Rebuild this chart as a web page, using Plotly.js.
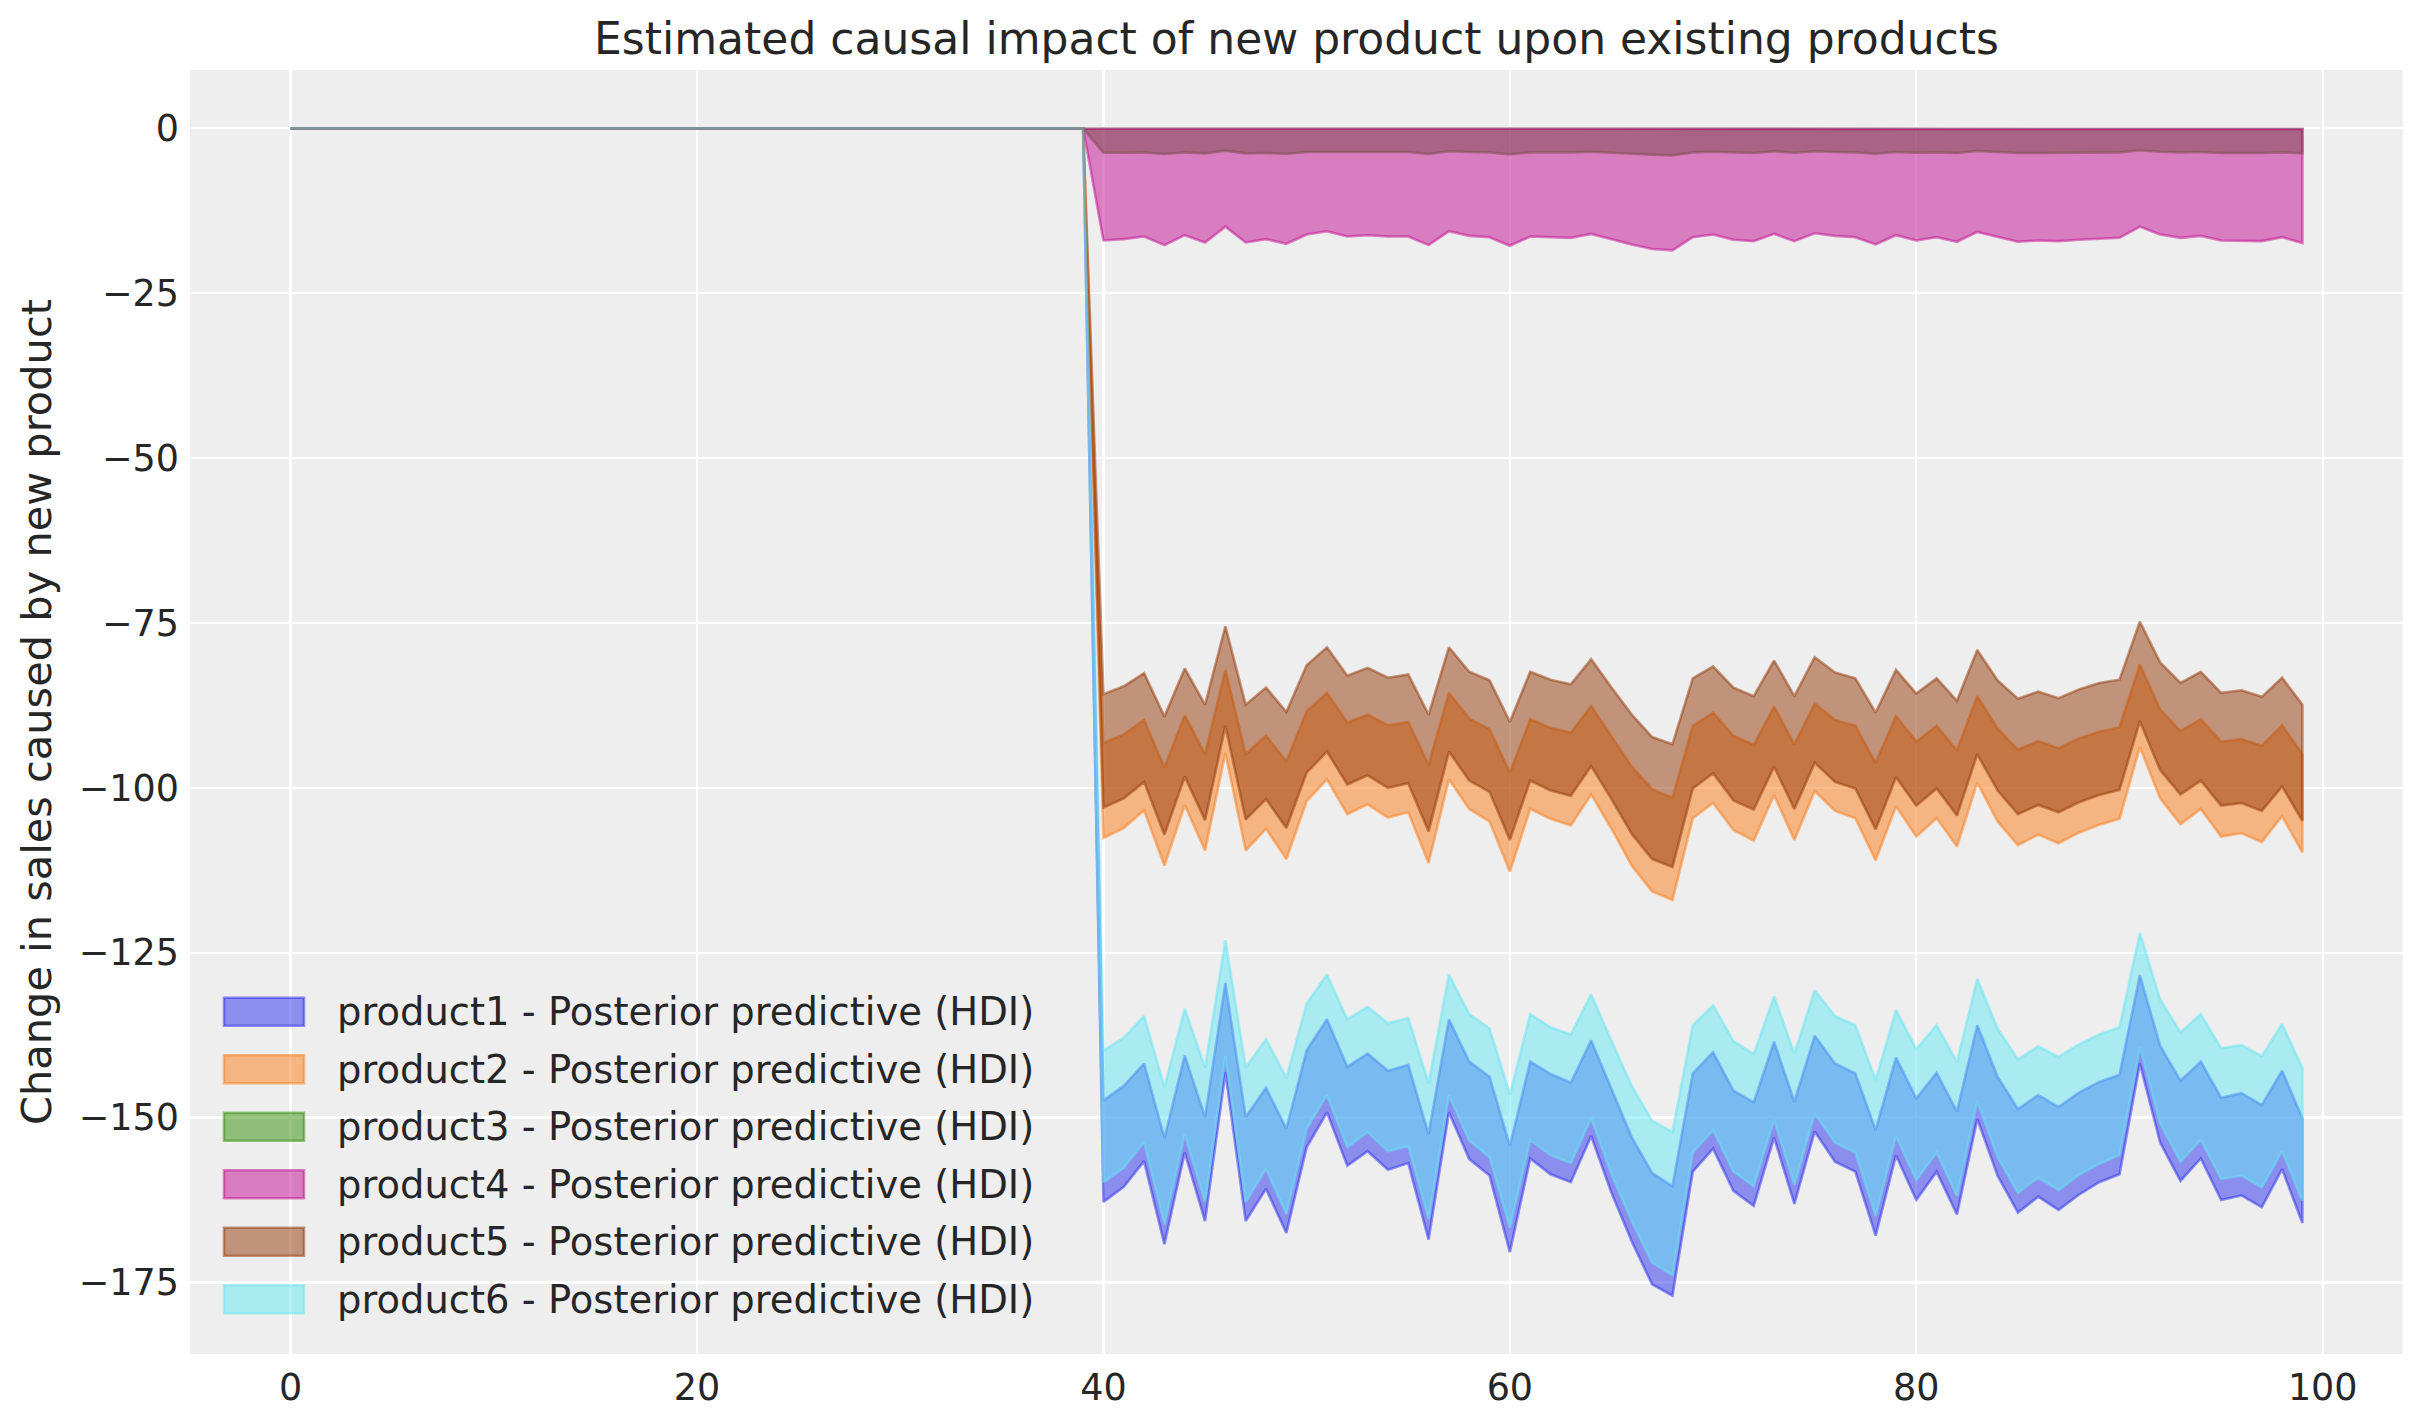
<!DOCTYPE html>
<html>
<head>
<meta charset="utf-8">
<script src="https://cdn.plot.ly/plotly-3.0.1.min.js"></script>
<style>
  html, body { margin: 0; padding: 0; background: #ffffff; }
  #chart { width: 2423px; height: 1423px; }
</style>
</head>
<body>
<div id="chart"></div>
<script>
// Time index (weeks)
const t = [0,1,2,3,4,5,6,7,8,9,10,11,12,13,14,15,16,17,18,19,20,21,22,23,24,25,26,27,28,29,30,31,32,33,34,35,36,37,38,39,
  40,41,42,43,44,45,46,47,48,49,50,51,52,53,54,55,56,57,58,59,60,61,62,63,64,65,66,67,68,69,
  70,71,72,73,74,75,76,77,78,79,80,81,82,83,84,85,86,87,88,89,90,91,92,93,94,95,96,97,98,99];

// HDI bounds per product (0 before the new product launch at t=40)
const product1Upper = [0,0,0,0,0,0,0,0,0,0,0,0,0,0,0,0,0,0,0,0,0,0,0,0,0,0,0,0,0,0,0,0,0,0,0,0,0,0,0,0,
  -147.4,-145.2,-141.8,-153.1,-140.6,-149.9,-129.6,-149.9,-145.5,-151.7,
  -139.8,-135.1,-142.3,-140.3,-142.9,-142.0,-152.5,-135.1,-141.5,-143.8,
  -154.3,-141.5,-143.4,-144.7,-138.3,-145.7,-153.0,-158.4,-160.4,-143.3,
  -140.1,-145.9,-147.7,-138.5,-147.6,-137.6,-141.8,-143.3,-151.9,-140.9,
  -147.1,-143.2,-149.1,-136.0,-143.8,-148.7,-146.6,-148.4,-146.2,-144.6,
  -143.5,-128.4,-139.1,-144.4,-141.5,-147.0,-146.3,-148.1,-142.9,-150.1];
const product1Lower = [0,0,0,0,0,0,0,0,0,0,0,0,0,0,0,0,0,0,0,0,0,0,0,0,0,0,0,0,0,0,0,0,0,0,0,0,0,0,0,0,
  -162.8,-160.5,-156.6,-169.2,-155.3,-165.7,-143.1,-165.7,-160.8,-167.5,
  -154.5,-149.2,-157.3,-155.1,-157.9,-156.9,-168.5,-149.2,-156.3,-158.8,
  -170.4,-156.2,-158.6,-159.8,-152.8,-161.4,-168.8,-175.3,-177.0,-158.2,
  -154.7,-161.1,-163.4,-153.0,-163.1,-152.1,-156.7,-158.2,-167.9,-155.7,
  -162.5,-158.2,-164.7,-150.2,-158.8,-164.4,-162.0,-164.0,-161.7,-159.8,
  -158.6,-141.8,-153.8,-159.6,-156.2,-162.5,-161.8,-163.6,-157.8,-166.0];

const product2Upper = [0,0,0,0,0,0,0,0,0,0,0,0,0,0,0,0,0,0,0,0,0,0,0,0,0,0,0,0,0,0,0,0,0,0,0,0,0,0,0,0,
  -93.2,-91.9,-89.7,-96.9,-89.0,-94.9,-82.1,-94.9,-92.1,-96.0,
  -88.4,-85.6,-90.1,-88.9,-90.5,-90.0,-96.5,-85.6,-89.5,-91.1,
  -97.7,-89.6,-90.9,-91.6,-87.6,-92.2,-96.8,-100.2,-101.5,-90.6,
  -88.6,-92.1,-93.5,-87.7,-93.4,-87.2,-89.7,-90.6,-96.2,-89.1,
  -93.0,-90.6,-94.3,-86.1,-91.0,-94.2,-92.9,-94.0,-92.5,-91.5,
  -90.8,-81.3,-88.1,-91.4,-89.6,-93.0,-92.6,-93.6,-90.5,-94.9];
const product2Lower = [0,0,0,0,0,0,0,0,0,0,0,0,0,0,0,0,0,0,0,0,0,0,0,0,0,0,0,0,0,0,0,0,0,0,0,0,0,0,0,0,
  -107.6,-106.1,-103.4,-111.8,-102.6,-109.5,-94.7,-109.5,-106.2,-110.8,
  -102.0,-98.7,-104.0,-102.5,-104.5,-103.7,-111.4,-98.7,-103.2,-105.1,
  -112.7,-103.2,-104.7,-105.7,-101.0,-106.2,-111.8,-115.7,-117.0,-104.6,
  -102.3,-106.4,-108.0,-101.1,-107.9,-100.5,-103.5,-104.6,-111.0,-102.8,
  -107.4,-104.6,-108.9,-99.2,-105.1,-108.7,-107.1,-108.4,-106.8,-105.6,
  -104.7,-93.8,-101.6,-105.5,-103.2,-107.4,-106.9,-108.2,-104.3,-109.8];

const product3Upper = [0,0,0,0,0,0,0,0,0,0,0,0,0,0,0,0,0,0,0,0,0,0,0,0,0,0,0,0,0,0,0,0,0,0,0,0,0,0,0,0,
  -0.1,-0.1,-0.1,-0.1,-0.1,-0.1,-0.1,-0.1,-0.1,-0.1,
  -0.1,-0.1,-0.1,-0.1,-0.1,-0.1,-0.1,-0.1,-0.1,-0.1,
  -0.1,-0.1,-0.1,-0.1,-0.1,-0.1,-0.1,-0.1,-0.1,-0.1,
  -0.1,-0.1,-0.1,-0.1,-0.1,-0.1,-0.1,-0.1,-0.1,-0.1,
  -0.1,-0.1,-0.1,-0.1,-0.1,-0.1,-0.1,-0.1,-0.1,-0.1,
  -0.1,-0.1,-0.1,-0.1,-0.1,-0.1,-0.1,-0.1,-0.1,-0.1];
const product3Lower = [0,0,0,0,0,0,0,0,0,0,0,0,0,0,0,0,0,0,0,0,0,0,0,0,0,0,0,0,0,0,0,0,0,0,0,0,0,0,0,0,
  -3.69,-3.69,-3.64,-3.89,-3.64,-3.79,-3.38,-3.79,-3.74,-3.84,
  -3.59,-3.48,-3.59,-3.59,-3.59,-3.59,-3.89,-3.48,-3.59,-3.64,
  -3.94,-3.64,-3.64,-3.64,-3.54,-3.69,-3.84,-4.00,-4.10,-3.64,
  -3.54,-3.69,-3.74,-3.48,-3.69,-3.48,-3.59,-3.64,-3.84,-3.59,
  -3.69,-3.64,-3.74,-3.43,-3.64,-3.74,-3.74,-3.74,-3.69,-3.69,
  -3.64,-3.33,-3.54,-3.64,-3.59,-3.74,-3.74,-3.74,-3.64,-3.79];

const product4Upper = [0,0,0,0,0,0,0,0,0,0,0,0,0,0,0,0,0,0,0,0,0,0,0,0,0,0,0,0,0,0,0,0,0,0,0,0,0,0,0,0,
  -0.1,-0.1,-0.1,-0.1,-0.1,-0.1,-0.1,-0.1,-0.1,-0.1,
  -0.1,-0.1,-0.1,-0.1,-0.1,-0.1,-0.1,-0.1,-0.1,-0.1,
  -0.1,-0.1,-0.1,-0.1,-0.1,-0.1,-0.1,-0.1,-0.1,-0.1,
  -0.1,-0.1,-0.1,-0.1,-0.1,-0.1,-0.1,-0.1,-0.1,-0.1,
  -0.1,-0.1,-0.1,-0.1,-0.1,-0.1,-0.1,-0.1,-0.1,-0.1,
  -0.1,-0.1,-0.1,-0.1,-0.1,-0.1,-0.1,-0.1,-0.1,-0.1];
const product4Lower = [0,0,0,0,0,0,0,0,0,0,0,0,0,0,0,0,0,0,0,0,0,0,0,0,0,0,0,0,0,0,0,0,0,0,0,0,0,0,0,0,
  -17.0,-16.8,-16.4,-17.7,-16.2,-17.3,-14.9,-17.3,-16.8,-17.5,
  -16.1,-15.6,-16.4,-16.2,-16.4,-16.4,-17.7,-15.6,-16.3,-16.5,
  -17.8,-16.4,-16.5,-16.6,-16.0,-16.8,-17.6,-18.3,-18.5,-16.5,
  -16.1,-16.9,-17.1,-16.0,-17.1,-15.9,-16.3,-16.5,-17.6,-16.2,
  -17.0,-16.5,-17.2,-15.7,-16.5,-17.2,-17.0,-17.1,-16.9,-16.7,
  -16.6,-14.9,-16.1,-16.6,-16.3,-17.0,-17.0,-17.1,-16.5,-17.4];

const product5Upper = [0,0,0,0,0,0,0,0,0,0,0,0,0,0,0,0,0,0,0,0,0,0,0,0,0,0,0,0,0,0,0,0,0,0,0,0,0,0,0,0,
  -85.8,-84.6,-82.6,-89.2,-81.9,-87.4,-75.5,-87.4,-84.8,-88.5,
  -81.4,-78.7,-83.0,-81.8,-83.3,-82.8,-88.9,-78.7,-82.4,-83.7,
  -90.0,-82.4,-83.6,-84.3,-80.5,-84.8,-88.9,-92.3,-93.4,-83.4,
  -81.6,-84.8,-86.1,-80.7,-86.1,-80.2,-82.5,-83.4,-88.6,-82.1,
  -85.7,-83.4,-86.8,-79.1,-83.7,-86.5,-85.4,-86.4,-85.1,-84.1,
  -83.6,-74.8,-81.0,-84.1,-82.4,-85.6,-85.2,-86.2,-83.3,-87.4];
const product5Lower = [0,0,0,0,0,0,0,0,0,0,0,0,0,0,0,0,0,0,0,0,0,0,0,0,0,0,0,0,0,0,0,0,0,0,0,0,0,0,0,0,
  -103.0,-101.6,-99.1,-107.1,-98.3,-104.9,-90.6,-104.8,-101.7,-106.1,
  -97.7,-94.5,-99.5,-98.1,-100.0,-99.3,-106.6,-94.5,-98.9,-100.6,
  -107.9,-98.9,-100.4,-101.2,-96.7,-101.7,-107.0,-110.8,-112.0,-100.1,
  -97.8,-101.9,-103.3,-96.8,-103.2,-96.2,-99.1,-100.1,-106.3,-98.4,
  -102.7,-100.1,-104.2,-94.9,-100.4,-104.0,-102.6,-103.7,-102.2,-101.1,
  -100.3,-89.9,-97.3,-101.0,-98.9,-102.7,-102.3,-103.5,-99.8,-105.0];

const product6Upper = [0,0,0,0,0,0,0,0,0,0,0,0,0,0,0,0,0,0,0,0,0,0,0,0,0,0,0,0,0,0,0,0,0,0,0,0,0,0,0,0,
  -139.8,-137.9,-134.6,-145.4,-133.5,-142.4,-123.1,-142.4,-138.1,-144.0,
  -132.7,-128.3,-135.1,-133.2,-135.7,-134.9,-144.8,-128.3,-134.3,-136.5,
  -146.5,-134.3,-136.3,-137.4,-131.3,-138.4,-145.2,-150.5,-152.2,-136.0,
  -133.0,-138.4,-140.4,-131.6,-140.3,-130.7,-134.6,-136.0,-144.3,-133.7,
  -139.6,-136.0,-141.6,-129.0,-136.5,-141.2,-139.2,-140.8,-138.9,-137.4,
  -136.3,-122.0,-132.1,-137.1,-134.3,-139.5,-139.0,-140.7,-135.8,-142.5];
const product6Lower = [0,0,0,0,0,0,0,0,0,0,0,0,0,0,0,0,0,0,0,0,0,0,0,0,0,0,0,0,0,0,0,0,0,0,0,0,0,0,0,0,
  -159.8,-157.6,-153.7,-166.2,-152.5,-162.8,-140.7,-162.8,-157.8,-164.6,
  -151.7,-146.6,-154.5,-152.2,-155.1,-154.3,-165.4,-146.6,-153.5,-156.0,
  -166.7,-153.4,-155.7,-156.9,-150.1,-158.6,-165.7,-172.0,-173.9,-155.3,
  -151.9,-158.2,-160.4,-150.3,-160.2,-149.4,-153.8,-155.3,-164.9,-152.8,
  -159.5,-155.3,-161.9,-147.5,-156.0,-161.4,-159.1,-161.0,-158.7,-157.0,
  -155.7,-139.3,-150.9,-156.7,-153.4,-159.3,-158.8,-160.6,-155.1,-162.6];

const productNames = ["product1","product2","product3","product4","product5","product6"];
const legendSuffix = " - Posterior predictive (HDI)";
const xTicks = [0,20,40,60,80,100];
const yTicks = [0,-25,-50,-75,-100,-125,-150,-175];

const titleText = "Estimated causal impact of new product upon existing products";
const yTitleText = "Change in sales caused by new product";

// styling
const colors = ["42,46,236","250,124,23","50,140,6","193,12,144","147,55,8","101,229,243"];
const bands = [
  [product1Upper, product1Lower],
  [product2Upper, product2Lower],
  [product3Upper, product3Lower],
  [product4Upper, product4Lower],
  [product5Upper, product5Lower],
  [product6Upper, product6Lower]
];
const FONT = "DejaVu Sans, Liberation Sans, sans-serif";
const TXT = "#262626";

const tRev = t.slice().reverse();
const traces = bands.map(function (b, i) {
  return {
    type: "scatter",
    mode: "lines",
    name: productNames[i] + legendSuffix,
    x: t.concat(tRev),
    y: b[0].concat(b[1].slice().reverse()),
    fill: "toself",
    fillcolor: "rgba(" + colors[i] + ",0.5)",
    line: { color: "rgba(" + colors[i] + ",0.5)", width: 2.6 },
    hoverinfo: "skip",
    showlegend: false
  };
});

// custom legend (patch + label), placed in paper coordinates
const W = 2423, H = 1423;
const mL = 190, mR = 20, mT = 70, mB = 69;
const pw = W - mL - mR, ph = H - mT - mB;
const legendTopCenterPx = 1011.7, legendStepPx = 57.5;
const shapes = [], annotations = [];
productNames.forEach(function (n, i) {
  const yc = legendTopCenterPx + i * legendStepPx;
  const yp = (H - mB - yc) / ph;
  const hh = 14 / ph;
  shapes.push({
    type: "rect", xref: "paper", yref: "paper",
    x0: (224 - mL) / pw, x1: (304 - mL) / pw,
    y0: yp - hh, y1: yp + hh,
    fillcolor: "rgba(" + colors[i] + ",0.5)",
    line: { color: "rgba(" + colors[i] + ",0.5)", width: 2.6 },
    layer: "above"
  });
  annotations.push({
    xref: "paper", yref: "paper",
    x: (335 - mL) / pw, y: yp,
    xanchor: "left", yanchor: "middle",
    text: n + legendSuffix,
    showarrow: false,
    font: { family: FONT, size: 38.5, color: TXT }
  });
});

const layout = {
  width: W, height: H,
  margin: { l: mL, r: mR, t: mT, b: mB, pad: 0 },
  paper_bgcolor: "#ffffff",
  plot_bgcolor: "#eeeeee",
  showlegend: false,
  font: { family: FONT, color: TXT },
  title: {
    text: titleText,
    font: { family: FONT, size: 44, color: TXT },
    x: 0.5, xref: "paper", xanchor: "center",
    y: 1 - 39 / H, yref: "container", yanchor: "middle"
  },
  xaxis: {
    range: [-4.95, 103.95],
    tickvals: xTicks,
    ticktext: xTicks.map(String),
    showgrid: true, gridcolor: "#ffffff", gridwidth: 2.2,
    zeroline: false, showline: false, ticks: "",
    tickfont: { family: FONT, size: 36.5, color: TXT },
    ticklabelstandoff: 8
  },
  yaxis: {
    range: [-185.85, 8.85],
    tickvals: yTicks,
    showgrid: true, gridcolor: "#ffffff", gridwidth: 2.2,
    zeroline: false, showline: false, ticks: "",
    tickfont: { family: FONT, size: 36.5, color: TXT },
    ticklabelstandoff: 10,
    title: {
      text: yTitleText,
      font: { family: FONT, size: 41.5, color: TXT },
      standoff: 14
    },
    automargin: false
  },
  shapes: shapes,
  annotations: annotations
};

Plotly.newPlot("chart", traces, layout, { staticPlot: true, displayModeBar: false });
</script>
</body>
</html>
